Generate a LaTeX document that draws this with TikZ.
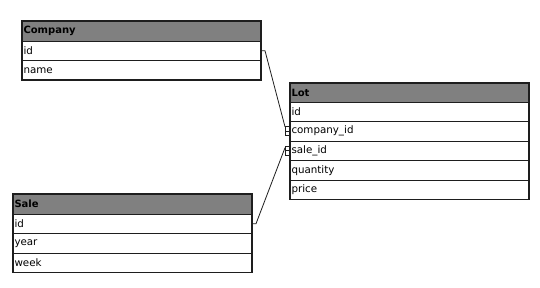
\documentclass[tikz,border=0pt]{standalone}
\usepackage{fontspec}
\usetikzlibrary{positioning}
\newfontfamily\tabfont{DejaVu Sans}
\definecolor{hdgray}{RGB}{128,128,128}
\definecolor{edge}{RGB}{30,30,30}

\begin{document}
\begin{tikzpicture}[
  head/.style={rectangle, draw=edge, fill=hdgray, line width=0.6pt, outer sep=0pt, text width=236pt, inner xsep=1.5pt, minimum height=20pt, align=left, font=\tabfont\bfseries\fontsize{10}{12}\selectfont},
  field/.style={rectangle, draw=edge, fill=white, line width=0.6pt, outer sep=0pt, text width=236pt, inner xsep=1.5pt, minimum height=19.5pt, align=left, font=\tabfont\fontsize{10.3}{12}\selectfont},
  frame/.style={draw=edge, line width=1.3pt},
  link/.style={draw=edge, line width=0.8pt}
]
\useasboundingbox[fill=white] (0,0) rectangle (540pt,288pt);
% Company
\node[head, anchor=north west] (company) at (22pt,267pt) {Company};
\node[field, below=0pt of company] (cid) {id};
\node[field, below=0pt of cid] (cname) {name};
\draw[frame] (company.north west) rectangle (cname.south east);
% Lot
\node[head, anchor=north west, minimum height=19pt] (lot) at (290pt,205pt) {Lot};
\node[field, below=0pt of lot] (lid) {id};
\node[field, below=0pt of lid] (lcid) {company\_id};
\node[field, below=0pt of lcid] (lsid) {sale\_id};
\node[field, below=0pt of lsid] (lqty) {quantity};
\node[field, below=0pt of lqty] (lprice) {price};
\draw[frame] (lot.north west) rectangle (lprice.south east);
% Sale
\node[head, anchor=north west] (sale) at (13pt,94pt) {Sale};
\node[field, below=0pt of sale] (sid) {id};
\node[field, below=0pt of sid] (syear) {year};
\node[field, below=0pt of syear] (sweek) {week};
\draw[frame] (sale.north west) rectangle (sweek.south east);
% crow's feet on Lot
\foreach \r in {lcid,lsid} {
  \draw[link] ([xshift=-5pt,yshift=4.5pt]\r.west) -- ([xshift=-5pt,yshift=-4.5pt]\r.west);
  \foreach \dy in {-4.5,0,4.5}
    \draw[link] ([xshift=-5pt,yshift=\dy pt]\r.west) -- ([yshift=\dy pt]\r.west);
}
\coordinate (cfoot) at ([xshift=-5pt,yshift=4.5pt]lcid.west);
\coordinate (sfoot) at ([xshift=-5pt,yshift=3pt]lsid.west);
\draw[link] (cid.east) -- ++(4pt,0) -- (cfoot);
\draw[link] (sid.east) -- ++(4pt,0) -- (sfoot);
\end{tikzpicture}
\end{document}
